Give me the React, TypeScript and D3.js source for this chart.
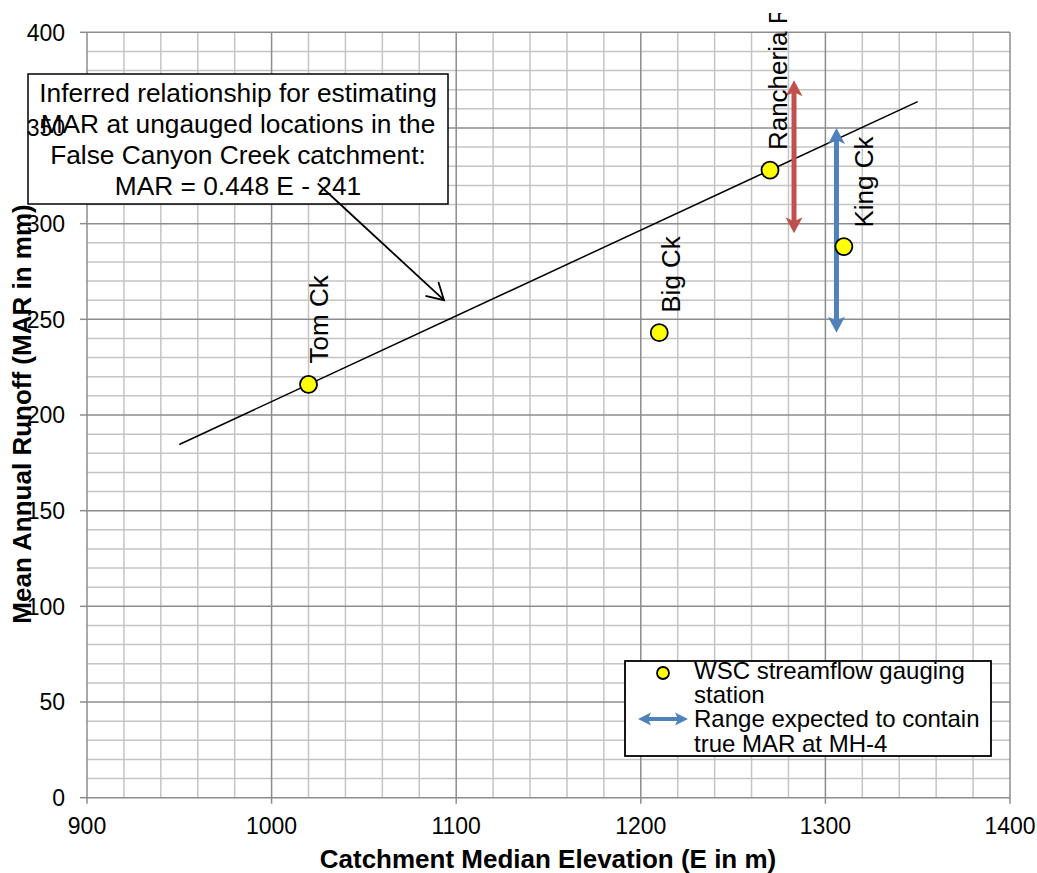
import React from "react";
import * as d3 from "d3";

// ---- Data ----
const STATION_NAMES = ["Tom Ck", "Big Ck", "Rancheria R", "King Ck"];
const STATION_E = [1020, 1210, 1270, 1310];
const STATION_MAR = [216, 243, 328, 288];

const TREND_E = [950, 1350];
const TREND_MAR = [184.6, 363.8];

const RANGE_E = [1283, 1306];
const RANGE_LOW = [295, 243];
const RANGE_HIGH = [375, 350];

const X_TICKS = [900, 1000, 1100, 1200, 1300, 1400];
const Y_TICKS = [0, 50, 100, 150, 200, 250, 300, 350, 400];

const ANNOTATION_LINES = [
  "Inferred relationship for estimating",
  "MAR at ungauged locations in the",
  "False Canyon Creek catchment:",
  "MAR = 0.448 E - 241",
];
const POINTER_E = [1025, 1093.4];
const POINTER_MAR = [321, 260];

const LEGEND_LINES = [
  "WSC streamflow gauging",
  "station",
  "Range expected to contain",
  "true MAR at MH-4",
];

// ---- Styles / layout ----
const W = 1037;
const H = 873;
const FONT = "'Liberation Sans', Arial, sans-serif";
const RANGE_COLORS = ["#C0504D", "#4F81BD"];
const LABEL_DX = [19, 21, 17, 29];
const LABEL_DY = [-21, -20, -20, -19];
const LEGEND_BASELINES = [679, 703, 727, 752];

const x = d3.scaleLinear().domain([900, 1400]).range([87, 1010]);
const y = d3.scaleLinear().domain([0, 400]).range([797.7, 32.3]);

function vArrow(cx: number, y1: number, y2: number, w: number, L: number, n: number) {
  const top = `M${cx},${y1} L${cx + w / 2},${y1 + L} L${cx},${y1 + n} L${cx - w / 2},${y1 + L} Z`;
  const bot = `M${cx},${y2} L${cx + w / 2},${y2 - L} L${cx},${y2 - n} L${cx - w / 2},${y2 - L} Z`;
  return { top, bot };
}
function hArrow(x1: number, x2: number, cy: number, w: number, L: number, n: number) {
  const left = `M${x1},${cy} L${x1 + L},${cy - w / 2} L${x1 + n},${cy} L${x1 + L},${cy + w / 2} Z`;
  const right = `M${x2},${cy} L${x2 - L},${cy - w / 2} L${x2 - n},${cy} L${x2 - L},${cy + w / 2} Z`;
  return { left, right };
}

export default function App() {
  const xMinor = d3.range(900, 1400.1, 20);
  const yMinor = d3.range(0, 400.1, 10);
  const line = d3
    .line<number>()
    .x((_, i) => x(TREND_E[i]))
    .y((d) => y(d));

  // pointer arrow
  const px1 = x(POINTER_E[0]);
  const py1 = y(POINTER_MAR[0]);
  const px2 = x(POINTER_E[1]);
  const py2 = y(POINTER_MAR[1]);
  const ang = Math.atan2(py1 - py2, px1 - px2);
  const wing = 19;
  const wa = (30 * Math.PI) / 180;
  const w1 = [px2 + wing * Math.cos(ang + wa), py2 + wing * Math.sin(ang + wa)];
  const w2 = [px2 + wing * Math.cos(ang - wa), py2 + wing * Math.sin(ang - wa)];

  const legendArrow = hArrow(638, 688, 719, 13, 13, 10);

  return (
    <svg
      width={W}
      height={H}
      style={{ position: "absolute", left: 0, top: 0, background: "#fff" }}
      fontFamily={FONT}
    >
      <defs>
        <clipPath id="labelClip">
          <rect x={0} y={13} width={W} height={H} />
        </clipPath>
      </defs>
      <rect x={0} y={0} width={W} height={H} fill="#fff" />

      {/* minor grid */}
      <g stroke="#c4c4c4" strokeWidth={1.5}>
        {xMinor.filter((v) => v % 100 !== 0).map((v) => (
          <line key={"xm" + v} x1={x(v)} x2={x(v)} y1={y(0)} y2={y(400)} />
        ))}
        {yMinor.filter((v) => v % 50 !== 0).map((v) => (
          <line key={"ym" + v} x1={x(900)} x2={x(1400)} y1={y(v)} y2={y(v)} />
        ))}
      </g>
      {/* major grid */}
      <g stroke="#8c8c8c" strokeWidth={1.5}>
        {X_TICKS.map((v) => (
          <line key={"xM" + v} x1={x(v)} x2={x(v)} y1={y(0)} y2={y(400)} />
        ))}
        {Y_TICKS.map((v) => (
          <line key={"yM" + v} x1={x(900)} x2={x(1400)} y1={y(v)} y2={y(v)} />
        ))}
        {X_TICKS.map((v) => (
          <line key={"xt" + v} x1={x(v)} x2={x(v)} y1={y(0)} y2={y(0) + 6} />
        ))}
        {Y_TICKS.map((v) => (
          <line key={"yt" + v} x1={x(900) - 7} x2={x(900)} y1={y(v)} y2={y(v)} />
        ))}
      </g>

      {/* trend line */}
      <path d={line(TREND_MAR) || ""} fill="none" stroke="#000" strokeWidth={1.5} />

      {/* range arrows */}
      {RANGE_E.map((e, i) => {
        const cx = x(e);
        const yt = y(RANGE_HIGH[i]);
        const yb = y(RANGE_LOW[i]);
        const a = vArrow(cx, yt, yb, 17, 16, 12);
        return (
          <g key={"r" + i} fill={RANGE_COLORS[i]}>
            <line x1={cx} x2={cx} y1={yt + 10} y2={yb - 10} stroke={RANGE_COLORS[i]} strokeWidth={5} />
            <path d={a.top} />
            <path d={a.bot} />
          </g>
        );
      })}

      {/* stations */}
      {STATION_E.map((e, i) => (
        <circle key={"p" + i} cx={x(e)} cy={y(STATION_MAR[i])} r={8.5} fill="#ffff00" stroke="#000" strokeWidth={1.8} />
      ))}
      <g clipPath="url(#labelClip)">
        {STATION_E.map((e, i) => {
          const lx = x(e) + LABEL_DX[i];
          const ly = y(STATION_MAR[i]) + LABEL_DY[i];
          return (
            <text key={"l" + i} x={0} y={0} transform={`translate(${lx},${ly}) rotate(-90)`} fontSize={26} fill="#000">
              {STATION_NAMES[i]}
            </text>
          );
        })}
      </g>

      {/* annotation box */}
      <rect x={28} y={74} width={420} height={130} fill="#fff" stroke="#000" strokeWidth={1.5} />
      {ANNOTATION_LINES.map((t, i) => (
        <text key={"a" + i} x={238} y={102 + i * 31} textAnchor="middle" fontSize={26.3} fill="#000">
          {t}
        </text>
      ))}
      <g stroke="#000" strokeWidth={1.8} fill="none">
        <line x1={px1} y1={py1} x2={px2} y2={py2} />
        <polyline points={`${w1[0]},${w1[1]} ${px2},${py2} ${w2[0]},${w2[1]}`} />
      </g>

      {/* axis tick labels */}
      {X_TICKS.map((v) => (
        <text key={"xl" + v} x={x(v)} y={834} textAnchor="middle" fontSize={23} fill="#000">
          {v}
        </text>
      ))}
      {Y_TICKS.map((v) => (
        <text key={"yl" + v} x={65} y={y(v)} dy="0.36em" textAnchor="end" fontSize={23} fill="#000">
          {v}
        </text>
      ))}

      {/* axis titles */}
      <text x={548} y={868} textAnchor="middle" fontSize={26} fontWeight="bold" fill="#000">
        Catchment Median Elevation (E in m)
      </text>
      <text transform={`translate(31,414) rotate(-90)`} textAnchor="middle" fontSize={26} fontWeight="bold" fill="#000">
        Mean Annual Runoff (MAR in mm)
      </text>

      {/* legend */}
      <rect x={625} y={661} width={366} height={95} fill="#fff" stroke="#000" strokeWidth={1.8} />
      <circle cx={663} cy={673} r={6} fill="#ffff00" stroke="#000" strokeWidth={1.8} />
      <g fill={RANGE_COLORS[1]}>
        <line x1={646} x2={680} y1={719} y2={719} stroke={RANGE_COLORS[1]} strokeWidth={4} />
        <path d={legendArrow.left} />
        <path d={legendArrow.right} />
      </g>
      {LEGEND_LINES.map((t, i) => (
        <text key={"lg" + i} x={694} y={LEGEND_BASELINES[i]} fontSize={24} fill="#000">
          {t}
        </text>
      ))}
    </svg>
  );
}
